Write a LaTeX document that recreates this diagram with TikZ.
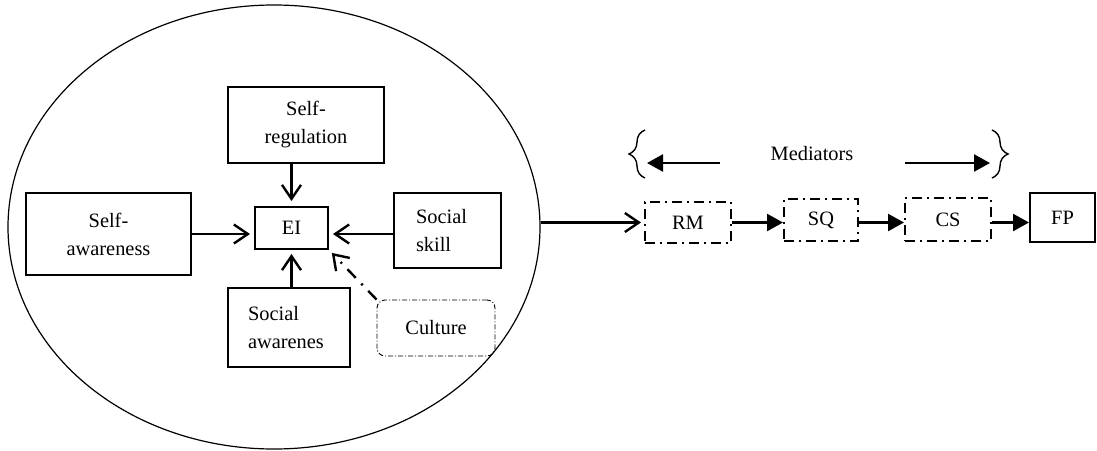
\documentclass[tikz,border=0pt]{standalone}
\usepackage{fontspec}
\setmainfont{Liberation Serif}
\usetikzlibrary{arrows.meta,shapes.geometric,decorations.pathreplacing}

\begin{document}
\begin{tikzpicture}[
  x=0.5pt,y=-0.5pt,
  every node/.style={font=\fontsize{10.2}{14}\selectfont},
  factor/.style={draw,line width=1pt,inner sep=0pt,align=center},
  lfactor/.style={draw,line width=1pt,inner ysep=0pt,align=left},
  mediator/.style={draw,line width=1pt,inner sep=0pt,
    dash pattern=on 5pt off 2.5pt on 1pt off 2.5pt},
  moderator/.style={draw,line width=0.45pt,inner sep=0pt,rounded corners=4pt,
    dash pattern=on 2.5pt off 1pt on 0.5pt off 1pt},
  a/.style={-{Straight Barb[length=7pt,width=9.5pt]},line width=1.2pt,shorten >=2pt},
  m/.style={-{Triangle[length=8pt,width=8.5pt]},line width=1.2pt},
  br/.style={decorate,decoration={brace,amplitude=8pt},line width=0.7pt}
]
  \useasboundingbox (0,0) rectangle (1097,450);
  \node[draw,ellipse,line width=0.6pt,minimum width=266pt,minimum height=222pt,
    inner sep=0pt] (eiarea) at (274,227) {};

  \node[factor,minimum width=78pt,minimum height=38pt] (selfreg) at (306,125) {Self-\\regulation};
  \node[factor,minimum width=82.5pt,minimum height=41pt] (selfaw) at (108.5,234) {Self-\\awareness};
  \node[factor,minimum width=36.5pt,minimum height=21pt] (ei) at (291.5,228) {EI};
  \node[lfactor,inner xsep=11pt,text width=31.5pt,minimum height=37.5pt] (socskill)
    at (447.5,230.5) {Social\\skill};
  \node[lfactor,inner xsep=10pt,text width=41pt,minimum height=39.5pt] (socaw)
    at (289,327.5) {Social\\awarenes};
  \node[moderator,minimum width=59pt,minimum height=28pt] (culture) at (436,328) {Culture};

  \node[mediator,minimum width=43pt,minimum height=20.5pt] (rm) at (688,222.5) {RM};
  \node[mediator,minimum width=37pt,minimum height=21pt] (sq) at (821,220) {SQ};
  \node[mediator,minimum width=43pt,minimum height=21.5pt] (cs) at (948,219.5) {CS};
  \node[factor,minimum width=32.5pt,minimum height=24.5pt] (fp) at (1062.5,217.5) {FP};

  \draw[a] (selfaw.east) -- (selfaw.east -| ei.west);
  \draw[a,shorten >=2.5pt] (ei.north |- selfreg.south) -- (ei.north);
  \draw[a] (socskill.west |- selfaw.east) -- (selfaw.east -| ei.east);
  \draw[a] (ei.south |- socaw.north) -- (ei.south);
  \draw[a,dash pattern=on 6pt off 4pt on 1pt off 4pt] (culture.north west) -- (ei.south east);

  \draw[a,shorten >=1.5pt] (eiarea.east |- rm.west) -- (rm.west);
  \draw[m] (rm.east) -- (rm.east -| sq.west);
  \draw[m] (sq.east |- rm.east) -- (cs.west |- rm.east);
  \draw[m] (cs.east |- rm.east) -- (fp.west |- rm.east);

  \node (medlbl) at (812,154) {Mediators};
  \coordinate (lbtop) at (645,130);
  \coordinate (lbbot) at (645,178);
  \coordinate (rbtop) at (992,130);
  \coordinate (rbbot) at (992,178);
  \draw[br] (lbbot) -- (lbtop);
  \draw[br] (rbtop) -- (rbbot);
  \coordinate (lstart) at (720,163);
  \coordinate (rstart) at (905,163);
  \draw[m,shorten >=1pt] (lstart) -- (lstart -| lbtop);
  \draw[m,shorten >=1pt] (rstart) -- (rstart -| rbtop);
\end{tikzpicture}
\end{document}
